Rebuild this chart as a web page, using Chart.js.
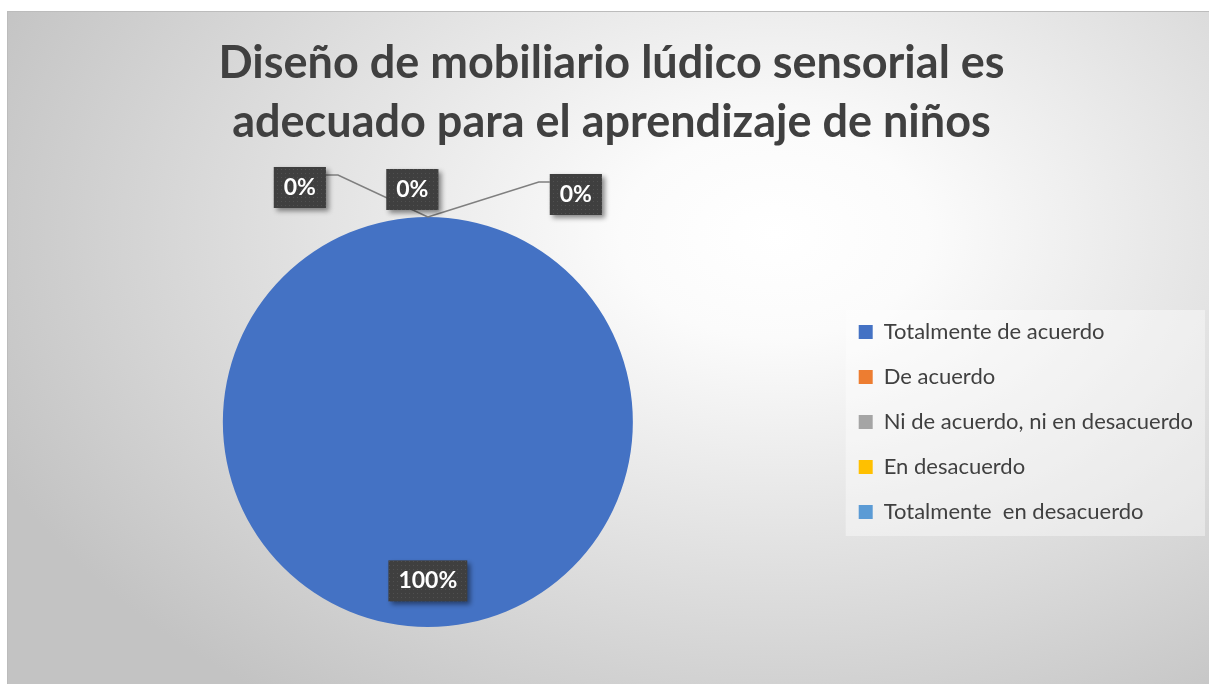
<!DOCTYPE html>
<html>
<head>
<meta charset="utf-8">
<script src="https://cdn.jsdelivr.net/npm/chart.js@4/dist/chart.umd.min.js"></script>
<style>
  html, body { margin: 0; padding: 0; background: #fff; overflow: hidden; }
  #caja {
    position: absolute; left: 7px; top: 11px; width: 1216px; height: 674px;
    border-top: 1px solid #bcbcbc; border-left: 1px solid #bcbcbc;
    background: radial-gradient(ellipse 70% 85% at 63% 33%, #ffffff 0%, #fbfbfb 18%, #c3c3c3 100%);
  }
  canvas { display: block; }
</style>
</head>
<body>
<div id="caja"><canvas id="grafico" width="1214" height="672"></canvas></div>
<script>
const categorias = [
  "Totalmente de acuerdo",
  "De acuerdo",
  "Ni de acuerdo, ni en desacuerdo",
  "En desacuerdo",
  "Totalmente  en desacuerdo"
];
const valores = [100, 0, 0, 0, 0];
const colores = ["#4472C4", "#ED7D31", "#A5A5A5", "#FFC000", "#5B9BD5"];
const titulo = ["Diseño de mobiliario lúdico sensorial es", "adecuado para el aprendizaje de niños"];

// donde va cada etiqueta de porcentaje (respecto al punto de arriba del pastel)
const etiquetas = [
  { dentro: true },
  { dx: -128, dy: -29.5, guia: "izq" },
  { dx: -15.5, dy: -27.5, guia: null },
  { dx: 148, dy: -22.5, guia: "der" },
  null
];

const FUENTE = "Lato, 'Open Sans', sans-serif";

// patron de puntitos del fondo de las etiquetas
const patronCanvas = document.createElement("canvas");
patronCanvas.width = 4;
patronCanvas.height = 4;
const pctx = patronCanvas.getContext("2d");
pctx.fillStyle = "#3f3f3f";
pctx.fillRect(0, 0, 4, 4);
pctx.fillStyle = "#505050";
pctx.fillRect(1, 1, 1, 1);

const fondoLeyenda = {
  id: "fondoLeyenda",
  beforeDraw(chart) {
    const leg = chart.legend;
    if (!leg || !leg.legendHitBoxes.length) return;
    const cajas = leg.legendHitBoxes;
    const primero = cajas[0];
    const ultimo = cajas[cajas.length - 1];
    const ctx = chart.ctx;
    ctx.save();
    ctx.fillStyle = "rgba(255,255,255,0.4)";
    const x0 = primero.left - 13;
    const y0 = primero.top - 11;
    ctx.fillRect(x0, y0, chart.width - 17 - x0, ultimo.top + ultimo.height + 13 - y0);
    ctx.restore();
  }
};

function cajaEtiqueta(ctx, texto, cx, cy) {
  ctx.font = "bold 23px " + FUENTE;
  const w = ctx.measureText(texto).width + 20;
  const h = 41;
  ctx.save();
  ctx.shadowColor = "rgba(0,0,0,0.45)";
  ctx.shadowBlur = 5;
  ctx.shadowOffsetX = 3;
  ctx.shadowOffsetY = 3;
  ctx.fillStyle = ctx.createPattern(patronCanvas, "repeat");
  ctx.fillRect(cx - w / 2, cy - h / 2, w, h);
  ctx.restore();
  ctx.fillStyle = "#ffffff";
  ctx.textAlign = "center";
  ctx.textBaseline = "middle";
  ctx.fillText(texto, cx, cy);
}

const etiquetasPorcentaje = {
  id: "etiquetasPorcentaje",
  afterDatasetsDraw(chart) {
    const ctx = chart.ctx;
    const arcos = chart.getDatasetMeta(0).data;
    const datos = chart.data.datasets[0].data;
    const total = datos.reduce((a, b) => a + b, 0);
    ctx.save();
    ctx.font = "bold 23px " + FUENTE;
    // primero las lineas guia
    arcos.forEach((arco, i) => {
      const e = etiquetas[i];
      if (!e || e.dentro || !e.guia) return;
      const px = arco.x + arco.outerRadius * Math.cos(arco.startAngle);
      const py = arco.y + arco.outerRadius * Math.sin(arco.startAngle);
      const cx = px + e.dx, cy = py + e.dy;
      const w = ctx.measureText("0%").width + 20;
      const top = cy - 20.5;
      ctx.strokeStyle = "#7f7f7f";
      ctx.lineWidth = 1.5;
      ctx.beginPath();
      ctx.moveTo(px, py);
      if (e.guia === "izq") {
        ctx.lineTo(cx + w / 2 + 12, top + 8);
        ctx.lineTo(cx + w / 2, top + 8);
      } else {
        ctx.lineTo(cx - w / 2 - 11, top + 8);
        ctx.lineTo(cx - w / 2, top + 8);
      }
      ctx.stroke();
    });
    arcos.forEach((arco, i) => {
      const e = etiquetas[i];
      if (!e) return;
      const texto = Math.round(datos[i] / total * 100) + "%";
      if (e.dentro) {
        const medio = (arco.startAngle + arco.endAngle) / 2;
        const r = arco.outerRadius * 0.775;
        cajaEtiqueta(ctx, texto, arco.x + r * Math.cos(medio), arco.y + r * Math.sin(medio));
      } else {
        const px = arco.x + arco.outerRadius * Math.cos(arco.startAngle);
        const py = arco.y + arco.outerRadius * Math.sin(arco.startAngle);
        cajaEtiqueta(ctx, texto, px + e.dx, py + e.dy);
      }
    });
    ctx.restore();
  }
};

new Chart(document.getElementById("grafico"), {
  type: "pie",
  data: {
    labels: categorias,
    datasets: [{
      data: valores,
      backgroundColor: colores,
      borderWidth: 0
    }]
  },
  options: {
    responsive: false,
    animation: false,
    layout: { padding: { left: 12, right: 19, top: 0, bottom: 57 } },
    plugins: {
      title: {
        display: true,
        text: titulo,
        color: "#404040",
        font: { family: FUENTE, size: 45, weight: "bold", lineHeight: 1.311 },
        padding: { top: 22, bottom: 65 }
      },
      legend: {
        position: "right",
        align: "center",
        fullSize: false,
        labels: {
          color: "#404040",
          font: { family: FUENTE, size: 22 },
          boxWidth: 14,
          boxHeight: 14,
          padding: 23
        }
      },
      tooltip: { enabled: false }
    }
  },
  plugins: [fondoLeyenda, etiquetasPorcentaje]
});
</script>
</body>
</html>
